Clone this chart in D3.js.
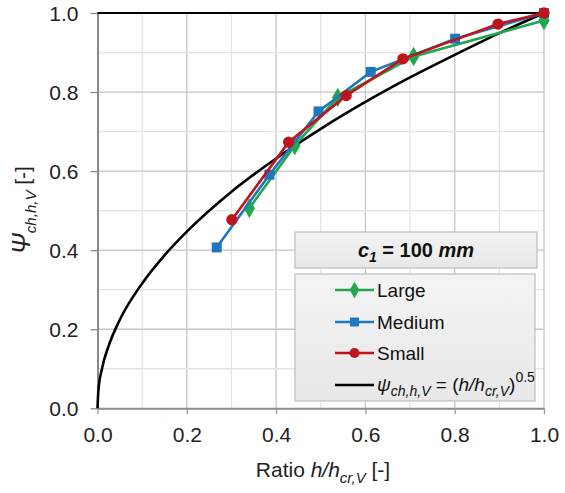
<!DOCTYPE html>
<html><head><meta charset="utf-8">
<script src="https://cdn.jsdelivr.net/npm/d3@7"></script>
<style>
body{margin:0;background:#fff;}
svg, svg text{font-family:"Liberation Sans",Arial,sans-serif;}
</style></head>
<body><svg id="c" width="565" height="493"></svg>
<script>
// Data
const largeX = [0.340, 0.442, 0.538, 0.708, 1.0];
const largeY = [0.506, 0.665, 0.786, 0.890, 0.981];
const mediumX = [0.267, 0.385, 0.495, 0.612, 0.801, 1.0];
const mediumY = [0.407, 0.591, 0.751, 0.851, 0.935, 1.0];
const smallX = [0.301, 0.428, 0.557, 0.684, 0.897, 1.0];
const smallY = [0.477, 0.673, 0.791, 0.884, 0.972, 1.0];
const curveX = [0, 0.002, 0.01, 0.025, 0.05, 0.1, 0.15, 0.2, 0.3, 0.4, 0.5, 0.6, 0.7, 0.8, 0.9, 1.0];
const curveY = [0, 0.045, 0.1, 0.158, 0.224, 0.316, 0.387, 0.447, 0.548, 0.632, 0.707, 0.775, 0.837, 0.894, 0.949, 1.0];
const xTicks = [0, 0.2, 0.4, 0.6, 0.8, 1.0];
const yTicks = [0, 0.2, 0.4, 0.6, 0.8, 1.0];
const seriesNames = ["Large", "Medium", "Small"];

const FONT = "Liberation Sans, Arial, sans-serif";
const svg = d3.select("#c");
const L = 97.5, R = 544, T = 13, B = 408.3;
const x = d3.scaleLinear().domain([0, 1]).range([L, R]);
const y = d3.scaleLinear().domain([0, 1]).range([B, T]);

// grid
const minor = d3.range(1, 10).map(d => d / 10);
const gridColor = d => (Math.round(d * 10) % 2 === 0) ? "#c6c6c6" : "#e4e4e4";
svg.append("g").selectAll("line").data(minor).join("line")
  .attr("x1", d => x(d)).attr("x2", d => x(d)).attr("y1", T).attr("y2", B)
  .attr("stroke", gridColor).attr("stroke-width", 1.3);
svg.append("g").selectAll("line").data(minor).join("line")
  .attr("y1", d => y(d)).attr("y2", d => y(d)).attr("x1", L).attr("x2", R)
  .attr("stroke", gridColor).attr("stroke-width", 1.3);
svg.append("line").attr("x1", x(1)).attr("x2", x(1)).attr("y1", T).attr("y2", B)
  .attr("stroke", "#c6c6c6").attr("stroke-width", 1.3);

// axes
const xAxis = d3.axisBottom(x).tickValues(xTicks).tickFormat(d3.format(".1f")).tickSizeInner(6).tickSizeOuter(0).tickPadding(13);
const gx = svg.append("g").attr("transform", `translate(0,${B})`).call(xAxis)
  .attr("font-family", FONT);
gx.select(".domain").attr("stroke", "#8a8a8a").attr("stroke-width", 2);
gx.selectAll(".tick line").attr("stroke", "#9a9a9a").attr("stroke-width", 1.3);
gx.selectAll("text").attr("font-size", 21).attr("fill", "#222");
const yAxis = d3.axisLeft(y).tickValues(yTicks).tickFormat(d3.format(".1f")).tickSizeInner(7).tickSizeOuter(0).tickPadding(12);
const gy = svg.append("g").attr("transform", `translate(${L},0)`).call(yAxis)
  .attr("font-family", FONT);
gy.select(".domain").attr("stroke", "#8a8a8a").attr("stroke-width", 2);
gy.selectAll(".tick line").attr("stroke", "#8a8a8a").attr("stroke-width", 1.3);
gy.selectAll("text").attr("font-size", 21).attr("fill", "#222").attr("dy", "0.36em");

// top horizontal line at 1.0
svg.append("line").attr("x1", x(0)).attr("x2", x(1)).attr("y1", y(1)).attr("y2", y(1))
  .attr("stroke", "#000").attr("stroke-width", 2.2);

// theoretical curve
const cpts = curveX.map((v, i) => [v, curveY[i]]);
svg.append("path").datum(cpts)
  .attr("d", d3.line().x(d => x(d[0])).y(d => y(d[1])).curve(d3.curveMonotoneX))
  .attr("fill", "none").attr("stroke", "#000").attr("stroke-width", 2.6);

const series = [
  {name: "Large", xs: largeX, ys: largeY, color: "#22a64e", sym: d3.symbolDiamond, size: 110},
  {name: "Medium", xs: mediumX, ys: mediumY, color: "#1f77c0", sym: d3.symbolSquare, size: 100},
  {name: "Small", xs: smallX, ys: smallY, color: "#c0141c", sym: d3.symbolCircle, size: 100}
];
const line = d3.line().x(d => x(d[0])).y(d => y(d[1]));
series.forEach(s => {
  const pts = s.xs.map((v, i) => [v, s.ys[i]]);
  const g = svg.append("g");
  g.append("path").datum(pts).attr("d", line).attr("fill", "none")
    .attr("stroke", s.color).attr("stroke-width", 2.6);
  g.selectAll("path.m").data(pts).join("path").attr("class", "m")
    .attr("transform", d => `translate(${x(d[0])},${y(d[1])})`)
    .attr("d", d3.symbol().type(s.sym).size(s.size)).attr("fill", s.color);
});

// legend title box
const defs = svg.append("defs");
const gr = defs.append("linearGradient").attr("id", "lg").attr("x1", 0).attr("y1", 0).attr("x2", 0).attr("y2", 1);
gr.append("stop").attr("offset", "0").attr("stop-color", "#f4f4f4");
gr.append("stop").attr("offset", "1").attr("stop-color", "#e8e8e8");
svg.append("rect").attr("x", 295).attr("y", 232).attr("width", 242).attr("height", 36)
  .attr("fill", "url(#lg)").attr("stroke", "#bdbdbd").attr("stroke-width", 1.2);
const tt = svg.append("text").attr("x", 416).attr("y", 257).attr("text-anchor", "middle")
  .attr("font-size", 20).attr("font-weight", "bold").attr("fill", "#111");
tt.append("tspan").attr("font-style", "italic").text("c");
tt.append("tspan").attr("font-style", "italic").attr("font-size", 14).attr("dy", 5).text("1");
tt.append("tspan").attr("dy", -5).text(" = 100 ");
tt.append("tspan").attr("font-style", "italic").text("mm");

// legend box
svg.append("rect").attr("x", 295).attr("y", 274).attr("width", 240).attr("height", 127)
  .attr("fill", "url(#lg)").attr("stroke", "#bdbdbd").attr("stroke-width", 1.2);
const ly = [290, 322, 353];
series.forEach((s, i) => {
  svg.append("line").attr("x1", 335).attr("x2", 374).attr("y1", ly[i]).attr("y2", ly[i])
    .attr("stroke", s.color).attr("stroke-width", 2.6);
  svg.append("path").attr("transform", `translate(354.5,${ly[i]})`)
    .attr("d", d3.symbol().type(s.sym).size(80)).attr("fill", s.color);
  svg.append("text").attr("x", 377).attr("y", ly[i] + 7).attr("font-size", 19).attr("fill", "#111").text(seriesNames[i]);
});
svg.append("line").attr("x1", 335).attr("x2", 374).attr("y1", 385).attr("y2", 385)
  .attr("stroke", "#000").attr("stroke-width", 2.6);
const ft = svg.append("text").attr("x", 377).attr("y", 391).attr("font-size", 19).attr("fill", "#111");
ft.append("tspan").attr("font-style", "italic").text("ψ");
ft.append("tspan").attr("font-style", "italic").attr("font-size", 14).attr("dy", 5).text("ch,h,V");
ft.append("tspan").attr("dy", -5).text(" = (");
ft.append("tspan").attr("font-style", "italic").text("h/h");
ft.append("tspan").attr("font-style", "italic").attr("font-size", 14).attr("dy", 5).text("cr,V");
ft.append("tspan").attr("dy", -5).text(")");
ft.append("tspan").attr("font-size", 14).attr("dy", -9).text("0.5");

// x axis title
const xt = svg.append("text").attr("x", 323).attr("y", 477).attr("text-anchor", "middle")
  .attr("font-size", 21).attr("fill", "#222");
xt.append("tspan").text("Ratio ");
xt.append("tspan").attr("font-style", "italic").text("h/h");
xt.append("tspan").attr("font-style", "italic").attr("font-size", 15).attr("dy", 6).text("cr,V");
xt.append("tspan").attr("dy", -6).text(" [-]");

// y axis title
const yt = svg.append("text").attr("transform", "translate(30,210) rotate(-90)").attr("text-anchor", "middle")
  .attr("font-size", 21).attr("fill", "#222");
yt.append("tspan").attr("font-style", "italic").attr("font-size", 25).text("Ψ");
yt.append("tspan").attr("font-style", "italic").attr("font-size", 15).attr("dy", 6).text("ch,h,V");
yt.append("tspan").attr("dy", -6).text(" [-]");
</script></body></html>
